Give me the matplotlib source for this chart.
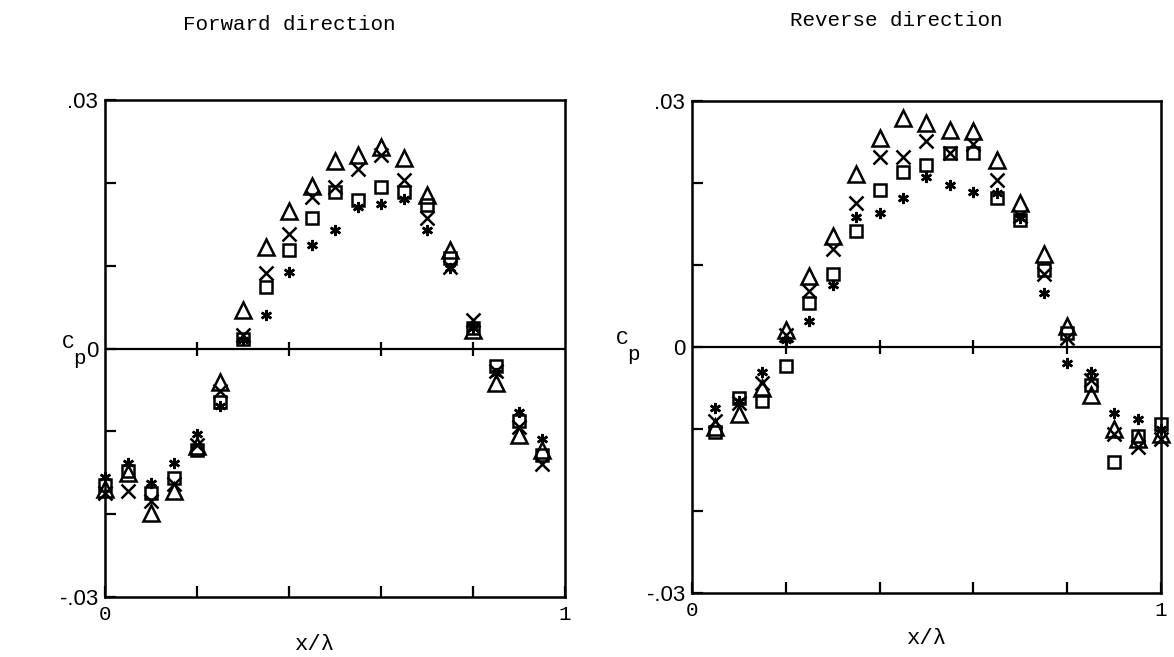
import numpy as np
import matplotlib
matplotlib.use('Agg')
import matplotlib.pyplot as plt

# ---------------- data ----------------
x_fwd = [0.0, 0.05, 0.10, 0.15, 0.20, 0.25, 0.30, 0.35, 0.40, 0.45, 0.50,
         0.55, 0.60, 0.65, 0.70, 0.75, 0.80, 0.85, 0.90, 0.95]
tri_fwd = [-0.0170, -0.0150, -0.0198, -0.0172, -0.0118, -0.0041, 0.0046, 0.0122, 0.0166, 0.0196, 0.0226,
           0.0233, 0.0243, 0.0230, 0.0185, 0.0119, 0.0022, -0.0042, -0.0105, -0.0123]
crs_fwd = [-0.0175, -0.0172, -0.0184, -0.0163, -0.0116, -0.0051, 0.0016, 0.0091, 0.0138, 0.0183, 0.0195,
           0.0217, 0.0233, 0.0204, 0.0157, 0.0098, 0.0034, -0.0027, -0.0095, -0.0139]
sqr_fwd = [-0.0165, -0.0148, -0.0175, -0.0156, -0.0123, -0.0065, 0.0012, 0.0074, 0.0119, 0.0157, 0.0189,
           0.0179, 0.0195, 0.0189, 0.0173, 0.0109, 0.0025, -0.0021, -0.0087, -0.0129]
ast_fwd = [-0.0155, -0.0138, -0.0162, -0.0138, -0.0103, -0.0069, 0.0010, 0.0041, 0.0092, 0.0125, 0.0143,
           0.0171, 0.0175, 0.0181, 0.0143, 0.0097, 0.0025, -0.0029, -0.0077, -0.0109]

x_rev = [0.05, 0.10, 0.15, 0.20, 0.25, 0.30, 0.35, 0.40, 0.45, 0.50, 0.55,
         0.60, 0.65, 0.70, 0.75, 0.80, 0.85, 0.90, 0.95, 1.0]
tri_rev = [-0.0098, -0.0082, -0.0050, 0.0021, 0.0086, 0.0135, 0.0211, 0.0255, 0.0279, 0.0273, 0.0265,
           0.0263, 0.0228, 0.0176, 0.0113, 0.0026, -0.0058, -0.0100, -0.0112, -0.0106]
crs_rev = [-0.0090, -0.0068, -0.0044, 0.0015, 0.0068, 0.0119, 0.0176, 0.0232, 0.0232, 0.0251, 0.0237,
           0.0248, 0.0204, 0.0160, 0.0089, 0.0011, -0.0040, -0.0106, -0.0122, -0.0112]
sqr_rev = [-0.0104, -0.0062, -0.0066, -0.0023, 0.0054, 0.0089, 0.0141, 0.0192, 0.0214, 0.0222, 0.0237,
           0.0236, 0.0182, 0.0155, 0.0094, 0.0017, -0.0046, -0.0140, -0.0108, -0.0094]
ast_rev = [-0.0074, -0.0066, -0.0031, 0.0009, 0.0032, 0.0076, 0.0159, 0.0163, 0.0182, 0.0207, 0.0198,
           0.0189, 0.0188, 0.0157, 0.0066, -0.0019, -0.0031, -0.0080, -0.0088, -0.0100]

yticks = [-0.03, -0.02, -0.01, 0.0, 0.01, 0.02, 0.03]
ytick_labels = ['-.03', '', '', '0', '', '', '.03']
xticks = [0.0, 0.2, 0.4, 0.6, 0.8, 1.0]
xtick_labels = ['0', '', '', '', '', '1']
zero_ticks = [0.2, 0.4, 0.6, 0.8]

mono = 'Liberation Mono'
sans = 'Liberation Sans'

fig = plt.figure(figsize=(11.74, 6.57), dpi=100)
ax1 = fig.add_axes([0.0894, 0.0913, 0.3918, 0.7565])
ax2 = fig.add_axes([0.5894, 0.0974, 0.3995, 0.7489])


def panel(ax, x, tri, crs, sqr, ast):
    ax.set_xlim(0, 1)
    ax.set_ylim(-0.03, 0.03)
    for s in ax.spines.values():
        s.set_linewidth(1.8)
    ax.axhline(0, color='k', lw=1.6, zorder=1)
    # small ticks across the zero line
    ax.plot(zero_ticks, [0] * len(zero_ticks), ls='none', marker='|',
            ms=10, mew=1.6, color='k', zorder=1)
    ax.set_yticks(yticks)
    ax.set_yticklabels(ytick_labels, fontfamily=sans, fontsize=16)
    ax.set_xticks(xticks)
    ax.set_xticklabels(xtick_labels, fontfamily=mono, fontsize=15)
    ax.tick_params(direction='in', length=8, width=1.6)
    ax.tick_params(axis='y', pad=5)
    ax.tick_params(axis='x', pad=6)
    kw = dict(ls='none', mfc='none', mec='k', color='k', mew=1.8, clip_on=False)
    ax.plot(x, tri, marker='^', ms=11, **kw)
    ax.plot(x, crs, marker='x', ms=10, **kw)
    ax.plot(x, sqr, marker='s', ms=8, **kw)
    ax.plot(x, ast, marker=(6, 2, 0), ms=8, **kw)


panel(ax1, x_fwd, tri_fwd, crs_fwd, sqr_fwd, ast_fwd)
panel(ax2, x_rev, tri_rev, crs_rev, sqr_rev, ast_rev)

# titles and labels
fig.text(289 / 1174, 1 - 24 / 657, 'Forward direction', fontfamily=mono,
         fontsize=15, ha='center', va='center')
fig.text(896 / 1174, 1 - 21 / 657, 'Reverse direction', fontfamily=mono,
         fontsize=15, ha='center', va='center')
fig.text(315 / 1174, 1 - 644 / 657, 'x/λ', fontfamily=mono,
         fontsize=16, ha='center', va='center')
fig.text(927 / 1174, 1 - 639 / 657, 'x/λ', fontfamily=mono,
         fontsize=16, ha='center', va='center')
# C with subscript p, drawn in the typewriter face
for cx, cy in [(68, 343), (622, 339)]:
    fig.text(cx / 1174, 1 - cy / 657, 'C', fontfamily=mono,
             fontsize=15, ha='center', va='center')
    fig.text((cx + 11) / 1174, 1 - (cy + 16) / 657, 'p', fontfamily=mono,
             fontsize=15, ha='center', va='center')

fig.savefig('out.png', dpi=100)
